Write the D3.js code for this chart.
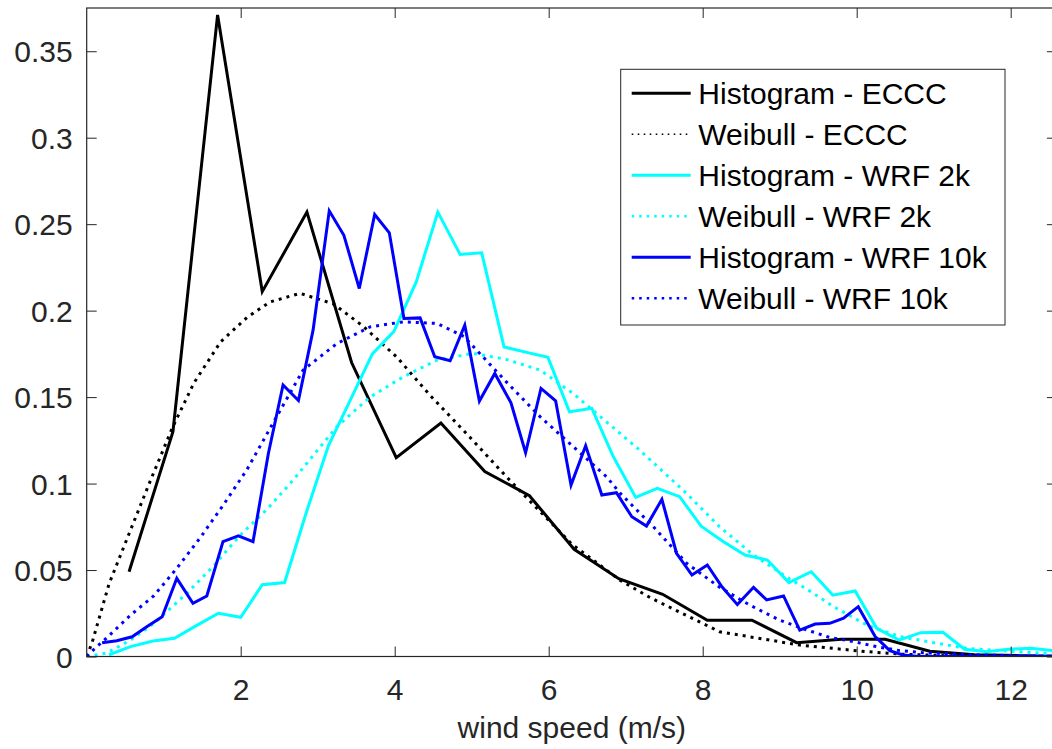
<!DOCTYPE html>
<html>
<head>
<meta charset="utf-8">
<script src="https://cdn.jsdelivr.net/npm/d3@7"></script>
<style>
  html, body { margin: 0; padding: 0; background: #fff; }
  svg { display: block; }
  text { font-family: Helvetica, "Liberation Sans", Arial, sans-serif; }
</style>
</head>
<body>
<svg id="chart" width="1052" height="749"></svg>
<script>
// ---------- DATA ----------
const xTicks = [2, 4, 6, 8, 10, 12];
const yTicks = [0, 0.05, 0.1, 0.15, 0.2, 0.25, 0.3, 0.35];
const yTickLabels = ["0", "0.05", "0.1", "0.15", "0.2", "0.25", "0.3", "0.35"];
const xLabel = "wind speed (m/s)";

const legendLabels = ["Histogram - ECCC", "Weibull - ECCC", "Histogram - WRF 2k",
                      "Weibull - WRF 2k", "Histogram - WRF 10k", "Weibull - WRF 10k"];

// Histogram - ECCC
const ecccHistX = [0.55,1.12,1.70,2.28,2.86,3.44,4.02,4.60,5.17,5.75,6.33,6.91,7.48,8.06,8.64,9.22,9.80,10.37,10.95,11.53,12.11,12.69];
const ecccHistY = [0.049,0.130,0.371,0.211,0.257,0.170,0.115,0.135,0.107,0.093,0.062,0.045,0.036,0.021,0.021,0.008,0.010,0.010,0.003,0.001,0.0005,0.0003];

// Weibull - ECCC
const ecccWeibX = [0,0.07,0.29,0.55,0.83,1.11,1.39,1.74,2.08,2.38,2.77,3.20,3.59,4.03,4.46,4.93,5.45,5.71,6.30,6.93,7.32,8.22,9.26,9.69,10.13,10.56,11.2,12.6];
const ecccWeibY = [0,0.008,0.042,0.071,0.102,0.132,0.158,0.182,0.196,0.205,0.210,0.204,0.191,0.173,0.151,0.129,0.104,0.092,0.065,0.044,0.034,0.0143,0.0066,0.0047,0.0028,0.0014,0.0004,0];

// Histogram - WRF 2k
const wrf2HistX = [0.29,0.57,0.86,1.14,1.43,1.71,2.00,2.28,2.57,2.85,3.14,3.42,3.71,3.99,4.28,4.56,4.85,5.13,5.42,5.70,5.99,6.27,6.56,6.84,7.13,7.41,7.70,7.98,8.27,8.55,8.84,9.12,9.41,9.69,9.98,10.26,10.55,10.83,11.12,11.40,11.69,11.97,12.26,12.54];
const wrf2HistY = [0.001,0.0057,0.009,0.0105,0.018,0.025,0.0227,0.0415,0.0428,0.083,0.122,0.148,0.175,0.188,0.2166,0.257,0.2325,0.2334,0.179,0.176,0.173,0.1415,0.1435,0.1155,0.092,0.0972,0.0924,0.0754,0.0664,0.0587,0.0558,0.0427,0.049,0.0355,0.0379,0.0163,0.0095,0.0138,0.014,0.0042,0.0028,0.0042,0.0047,0.0034];

// Weibull - WRF 2k
const wrf2WeibX = [0,0.26,0.57,0.87,1.30,1.64,1.99,2.34,2.68,3.25,3.68,4.11,4.55,5.02,5.45,5.89,6.32,6.75,7.19,7.79,8.22,8.66,9.09,9.44,9.70,10.13,10.56,11.0,11.43,11.86,12.29,12.6];
const wrf2WeibY = [0,0.002,0.0095,0.019,0.0365,0.052,0.070,0.085,0.102,0.133,0.150,0.1617,0.1714,0.1753,0.1718,0.1656,0.152,0.1357,0.119,0.0943,0.075,0.0587,0.046,0.0365,0.0288,0.0182,0.0115,0.008,0.0047,0.0034,0.0022,0.0015];

// Histogram - WRF 10k
const wrf10HistX = [0.20,0.39,0.59,0.78,0.98,1.17,1.38,1.56,1.77,1.97,2.16,2.36,2.55,2.75,2.94,3.15,3.34,3.54,3.74,3.93,4.12,4.33,4.52,4.72,4.91,5.10,5.30,5.51,5.70,5.90,6.09,6.29,6.48,6.69,6.88,7.08,7.27,7.47,7.66,7.86,8.06,8.25,8.45,8.66,8.83,9.05,9.26,9.46,9.65,9.83,10.02,10.24,10.43,10.60,10.80,10.99,11.19,11.39,11.58,11.78,11.98,12.17,12.37,12.57];
const wrf10HistY = [0.008,0.0091,0.0114,0.0172,0.023,0.0452,0.0308,0.035,0.0664,0.0697,0.0664,0.1175,0.157,0.148,0.1887,0.2577,0.2436,0.2128,0.2556,0.245,0.1955,0.1958,0.1733,0.171,0.1916,0.1477,0.1637,0.1467,0.1178,0.155,0.1479,0.0991,0.1219,0.0934,0.0947,0.0808,0.0754,0.0909,0.0597,0.0471,0.0529,0.0403,0.030,0.040,0.0327,0.035,0.0153,0.0188,0.0192,0.0221,0.0288,0.0115,0.0034,0.0009,0,0,0,0,0,0,0,0,0,0];

// Weibull - WRF 10k
const wrf10WeibX = [0,0.09,0.29,0.57,0.87,1.17,1.48,1.78,2.08,2.42,2.81,3.25,3.68,4.11,4.55,4.90,5.45,5.89,6.32,6.75,6.93,7.36,7.79,8.22,8.60,9.00,9.35,9.65,9.96,10.26,10.56,10.86,11.5,12.6];
const wrf10WeibY = [0,0.004,0.012,0.024,0.035,0.051,0.069,0.088,0.108,0.135,0.1656,0.181,0.1906,0.1935,0.1926,0.185,0.1588,0.1386,0.1213,0.104,0.0943,0.075,0.054,0.040,0.030,0.021,0.0154,0.011,0.0086,0.0057,0.0034,0.0022,0.001,0];

// ---------- LAYOUT ----------
const plot = { left: 86.7, right: 1056.9, top: 8, bottom: 656.5 };
const axisColor = "#262626";
const fontSize = 30;

const svg = d3.select("#chart");
const x = d3.scaleLinear().domain([0, 12.6]).range([plot.left, plot.right]);
const y = d3.scaleLinear().domain([0, 0.375]).range([plot.bottom, plot.top]);

svg.append("defs").append("clipPath").attr("id", "clip")
  .append("rect").attr("x", plot.left).attr("y", plot.top)
  .attr("width", plot.right - plot.left).attr("height", plot.bottom - plot.top);

const series = [
  { xs: ecccHistX, ys: ecccHistY, color: "#000000", dotted: false, legW: 3 },
  { xs: ecccWeibX, ys: ecccWeibY, color: "#000000", dotted: true, legW: 1.6 },
  { xs: wrf2HistX, ys: wrf2HistY, color: "#00FFFF", dotted: false, legW: 3 },
  { xs: wrf2WeibX, ys: wrf2WeibY, color: "#00FFFF", dotted: true, legW: 2.5 },
  { xs: wrf10HistX, ys: wrf10HistY, color: "#0000FF", dotted: false, legW: 3 },
  { xs: wrf10WeibX, ys: wrf10WeibY, color: "#0000FF", dotted: true, legW: 2.5 }
];

const line = d3.line().x(d => x(d[0])).y(d => y(d[1]));
const gLines = svg.append("g").attr("clip-path", "url(#clip)");
series.forEach(s => {
  const pts = s.xs.map((v, i) => [v, s.ys[i]]);
  gLines.append("path")
    .attr("d", line(pts))
    .attr("fill", "none")
    .attr("stroke", s.color)
    .attr("stroke-width", 3)
    .attr("stroke-linejoin", "miter")
    .attr("stroke-dasharray", s.dotted ? "3,5" : null);
});

function styleAxis(g) {
  g.select(".domain").remove();
  g.selectAll(".tick line").attr("stroke", axisColor).attr("stroke-width", 1);
  g.selectAll(".tick text").attr("fill", axisColor).attr("font-size", fontSize)
    .attr("font-family", 'Helvetica, "Liberation Sans", Arial, sans-serif');
}
const gx = svg.append("g").attr("transform", `translate(0,${plot.bottom})`)
  .call(d3.axisBottom(x).tickValues(xTicks).tickSizeInner(-10).tickSizeOuter(0).tickFormat(d3.format("d")));
styleAxis(gx);
gx.selectAll(".tick text").attr("y", 43.5).attr("dy", 0);

const gxTop = svg.append("g").attr("transform", `translate(0,${plot.top})`)
  .call(d3.axisTop(x).tickValues(xTicks).tickSizeInner(-10).tickSizeOuter(0).tickFormat(""));
styleAxis(gxTop);

const gy = svg.append("g").attr("transform", `translate(${plot.left},0)`)
  .call(d3.axisLeft(y).tickValues(yTicks).tickSizeInner(-10).tickSizeOuter(0)
    .tickFormat((d, i) => yTickLabels[i]));
styleAxis(gy);
gy.selectAll(".tick text").attr("x", -14).attr("dy", "0.35em");

const gyR = svg.append("g").attr("transform", `translate(${plot.right},0)`)
  .call(d3.axisRight(y).tickValues(yTicks).tickSizeInner(-10).tickSizeOuter(0).tickFormat(""));
styleAxis(gyR);

svg.append("rect")
  .attr("x", plot.left).attr("y", plot.top)
  .attr("width", plot.right - plot.left).attr("height", plot.bottom - plot.top)
  .attr("fill", "none").attr("stroke", axisColor).attr("stroke-width", 1.2);

svg.append("text")
  .attr("x", (plot.left + plot.right) / 2).attr("y", 738)
  .attr("text-anchor", "middle").attr("font-size", fontSize).attr("fill", axisColor)
  .text(xLabel);

const leg = svg.append("g");
leg.append("rect").attr("x", 620.7).attr("y", 69.3).attr("width", 384.3).attr("height", 255.7)
  .attr("fill", "#fff").attr("stroke", axisColor).attr("stroke-width", 1);
const legRowY = d3.scalePoint().domain(d3.range(legendLabels.length)).range([93.3, 298.3]);
series.forEach((s, i) => {
  const yy = legRowY(i);
  leg.append("line").attr("x1", 631.7).attr("x2", 690.7).attr("y1", yy).attr("y2", yy)
    .attr("stroke", s.color).attr("stroke-width", s.legW)
    .attr("stroke-dasharray", s.dotted ? (s.legW < 2 ? "1.6,4.4" : "2.5,5") : null);
  leg.append("text").attr("x", 698.3).attr("y", yy).attr("dy", "0.35em")
    .attr("font-size", fontSize).attr("fill", "#000").text(legendLabels[i]);
});
</script>
</body>
</html>
